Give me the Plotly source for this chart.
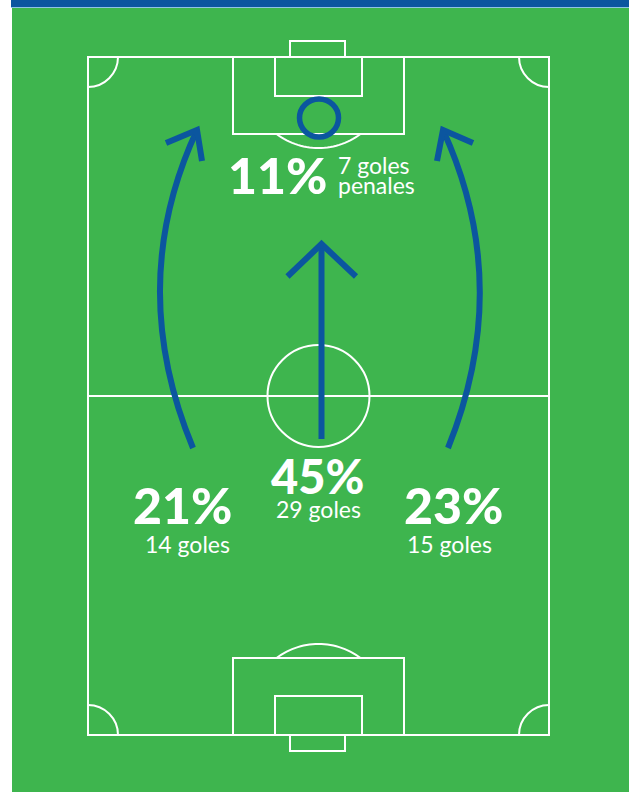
import math
import plotly.graph_objects as go

# ---------------- data ----------------
zones = ["izquierda", "centro", "derecha", "penales"]
percentages = [21, 45, 23, 11]
goals = [14, 29, 15, 7]
goal_labels = ["14 goles", "29 goles", "15 goles", "7 goles<br>penales"]

# ---------------- layout geometry (pixels) ----------------
W, H = 629, 792
GREEN = "#3eb54e"
BLUE = "#0b569f"
WHITE = "#ffffff"

field_x = [88, 549]
field_y = [57, 735]
mid_y = 396
center_x = 318.5
center_r = 51
pbox_x = [233, 404]
pbox_depth = 77
garea_x = [275, 362]
garea_depth = 39
goal_x = [290, 345]
goal_depth = 16
corner_r = 30
parc_r = 70
parc_spot = 21  # distance from goal line to arc centre
spot_ring = (319, 118, 19.5, 19)

# annotation positions per zone
pct_pos = {"izquierda": (182, 505, 50), "centro": (317, 475.5, 47),
           "derecha": (453, 505, 50), "penales": (277, 175, 50)}
lbl_pos = {"izquierda": (187, 543.5, 23, "center"), "centro": (318, 509, 23, "center"),
           "derecha": (449, 543.5, 23, "center"), "penales": (336, 164.5, 23, "left")}
line_gap = 20

# arrows: start, control, tip, wing1, wing2
arrows = [
    ((193, 448), (125, 285), (197, 130), (166, 143), (202, 161)),
    ((448, 448), (514, 285), (443, 130), (473, 143), (437, 161)),
    ((321.5, 439), (321.5, 340), (321.5, 244), (287.5, 276.5), (356, 276.5)),
]

shapes = []
line = dict(color=WHITE, width=2)

def rect(x0, y0, x1, y1, ln=line, fill=None):
    d = dict(type="rect", xref="x", yref="y", x0=x0, y0=y0, x1=x1, y1=y1, line=ln)
    if fill:
        d["fillcolor"] = fill
    shapes.append(d)

# backgrounds
rect(12, 8, W, H, ln=dict(width=0), fill=GREEN)
rect(11, 0, W, 7, ln=dict(width=0), fill=BLUE)
shapes.append(dict(type="line", xref="x", yref="y", x0=11, x1=W, y0=7.5, y1=7.5,
                   line=dict(color="#8fc3e6", width=1)))

# field
rect(field_x[0], field_y[0], field_x[1], field_y[1])
shapes.append(dict(type="line", xref="x", yref="y", x0=field_x[0], x1=field_x[1],
                   y0=mid_y, y1=mid_y, line=line))
shapes.append(dict(type="circle", xref="x", yref="y", x0=center_x - center_r, x1=center_x + center_r,
                   y0=mid_y - center_r, y1=mid_y + center_r, line=line))
for gy, s in ((field_y[0], 1), (field_y[1], -1)):
    rect(pbox_x[0], gy, pbox_x[1], gy + s * pbox_depth)
    rect(garea_x[0], gy, garea_x[1], gy + s * garea_depth)
    rect(goal_x[0], gy, goal_x[1], gy - s * goal_depth)
    # penalty arc (outside the penalty box)
    cy = gy + s * parc_spot
    yb = gy + s * pbox_depth
    dy = abs(yb - cy)
    a = math.acos(dy / parc_r)
    pts = []
    n = 30
    for i in range(n + 1):
        t = -a + 2 * a * i / n
        px = center_x + parc_r * math.sin(t)
        py = cy + s * parc_r * math.cos(t)
        pts.append(f"{px:.2f},{py:.2f}")
    shapes.append(dict(type="path", xref="x", yref="y", path="M " + " L ".join(pts), line=line))

# corner arcs
for cx, sx in ((field_x[0], 1), (field_x[1], -1)):
    for cy, sy in ((field_y[0], 1), (field_y[1], -1)):
        p = (f"M {cx + sx * corner_r},{cy} "
             f"C {cx + sx * corner_r},{cy + sy * corner_r * 0.55} {cx + sx * corner_r * 0.55},{cy + sy * corner_r} "
             f"{cx},{cy + sy * corner_r}")
        shapes.append(dict(type="path", xref="x", yref="y", path=p, line=line))

# penalty spot ring
sx_, sy_, rx, ry = spot_ring
shapes.append(dict(type="circle", xref="x", yref="y", x0=sx_ - rx, x1=sx_ + rx,
                   y0=sy_ - ry, y1=sy_ + ry, line=dict(color=BLUE, width=5.5)))

# arrows
aline = dict(color=BLUE, width=6)
for (s0, c, tip, w1, w2) in arrows:
    shapes.append(dict(type="path", xref="x", yref="y",
                       path=f"M {s0[0]},{s0[1]} Q {c[0]},{c[1]} {tip[0]},{tip[1]}", line=aline))
    shapes.append(dict(type="path", xref="x", yref="y",
                       path=f"M {w1[0]},{w1[1]} L {tip[0]},{tip[1]} L {w2[0]},{w2[1]}", line=aline))

annotations = []
for z, p, lab in zip(zones, percentages, goal_labels):
    x, y, fs = pct_pos[z]
    annotations.append(dict(x=x, y=y, xref="x", yref="y", text=f"{p}%", showarrow=False,
                            xanchor="center", yanchor="middle",
                            font=dict(family="Lato", size=fs, color=WHITE, weight=900)))
    x, y, fs, al = lbl_pos[z]
    for k, part in enumerate(lab.split("<br>")):
        annotations.append(dict(x=x, y=y + k * line_gap, xref="x", yref="y", text=part,
                                showarrow=False, xanchor=al, yanchor="middle", align=al,
                                font=dict(family="Lato", size=fs, color=WHITE, weight=400)))

fig = go.Figure()
fig.add_trace(go.Scatter(x=[], y=[]))
fig.update_layout(
    width=W, height=H, margin=dict(l=0, r=0, t=0, b=0),
    paper_bgcolor=WHITE, plot_bgcolor=WHITE, showlegend=False,
    xaxis=dict(range=[0, W], visible=False, fixedrange=True),
    yaxis=dict(range=[H, 0], visible=False, fixedrange=True),
    shapes=shapes, annotations=annotations,
)
fig.write_html("out.html", config={"displayModeBar": False},
               post_script="document.body.style.margin='0';document.body.style.padding='0';")
